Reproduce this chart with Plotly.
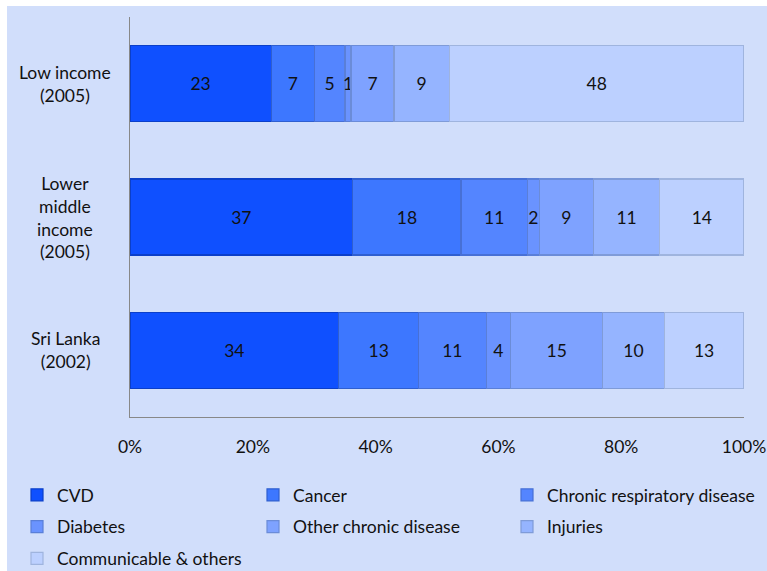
import plotly.graph_objects as go

# Share of deaths by cause, per population group
groups = ["Low income (2005)", "Lower middle income (2005)", "Sri Lanka (2002)"]
group_labels = ["Low income<br>(2005)", "Lower<br>middle<br>income<br>(2005)", "Sri Lanka<br>(2002)"]
causes = ["CVD", "Cancer", "Chronic respiratory disease", "Diabetes",
          "Other chronic disease", "Injuries", "Communicable & others"]
cvd = [23, 37, 34]
cancer = [7, 18, 13]
chronic_resp = [5, 11, 11]
diabetes = [1, 2, 4]
other_chronic = [7, 9, 15]
injuries = [9, 11, 10]
communicable = [48, 14, 13]
x_ticks = [0, 20, 40, 60, 80, 100]

series = [cvd, cancer, chronic_resp, diabetes, other_chronic, injuries, communicable]
fills = ["#0f50ff", "#3d77ff", "#5485ff", "#6a93ff", "#7ea2ff", "#95b4ff", "#bcd0ff"]
edges = ["#0b3fc9", "#2f5fd0", "#4770d6", "#5a7fd8", "#6b8cd8", "#7f9bd8", "#9fb4de"]
# legend column / row placement of each cause
legend_of = ["legend", "legend2", "legend3", "legend", "legend2", "legend3", "legend"]

FONT = "Lato, 'Open Sans', sans-serif"
FS = 17.5
fig = go.Figure()
for i, (name, vals) in enumerate(zip(causes, series)):
    fig.add_trace(go.Bar(
        y=groups, x=vals, name=name, orientation="h",
        marker=dict(color=fills[i], line=dict(color=edges[i], width=1.2)),
        text=[str(v) for v in vals], textposition="inside",
        insidetextanchor="middle", constraintext="none",
        textfont=dict(color="#111111", size=FS, family=FONT),
        legend=legend_of[i], legendgroup=name, hoverinfo="skip",
    ))

for g, lab in zip(groups, group_labels):
    fig.add_annotation(x=(65 - 130) / 614, xref="paper", y=g, yref="y", text=lab,
                       showarrow=False, xanchor="center", align="center",
                       font=dict(size=FS, color="#111111", family=FONT))

# light blue panel behind everything, leaving a thin white rim top/left
fig.add_shape(type="rect", xref="paper", yref="paper", layer="below",
              x0=(7 - 130) / 614, x1=(770 - 130) / 614,
              y0=(417 - 575) / 400, y1=(417 - 6) / 400,
              fillcolor="#d1defb", line=dict(width=0))

leg_common = dict(orientation="v", yanchor="top", y=(417 - 477) / 400,
                  bgcolor="rgba(0,0,0,0)", tracegroupgap=6,
                  font=dict(size=FS, color="#111111", family=FONT),
                  itemwidth=30, traceorder="grouped")
fig.update_layout(
    width=767, height=571,
    margin=dict(l=130, r=23, t=17, b=154, autoexpand=False),
    paper_bgcolor="white", plot_bgcolor="rgba(0,0,0,0)",
    barmode="stack", barnorm="percent", bargap=0.43,
    showlegend=True,
    legend=dict(x=(17 - 130) / 614, xanchor="left", **leg_common),
    legend2=dict(x=(253 - 130) / 614, xanchor="left", **leg_common),
    legend3=dict(x=(507 - 130) / 614, xanchor="left", **leg_common),
    xaxis=dict(range=[0, 100], tickvals=x_ticks, ticktext=[f"{t}%" for t in x_ticks],
               showgrid=False, zeroline=False, showline=True, linecolor="#888888",
               linewidth=1, ticks="", ticklabelstandoff=14,
               tickfont=dict(size=FS, color="#111111", family=FONT)),
    yaxis=dict(autorange="reversed", showticklabels=False, showgrid=False,
               zeroline=False, showline=True, linecolor="#888888", linewidth=1,
               ticks=""),
)

fig.write_html("out.html")
